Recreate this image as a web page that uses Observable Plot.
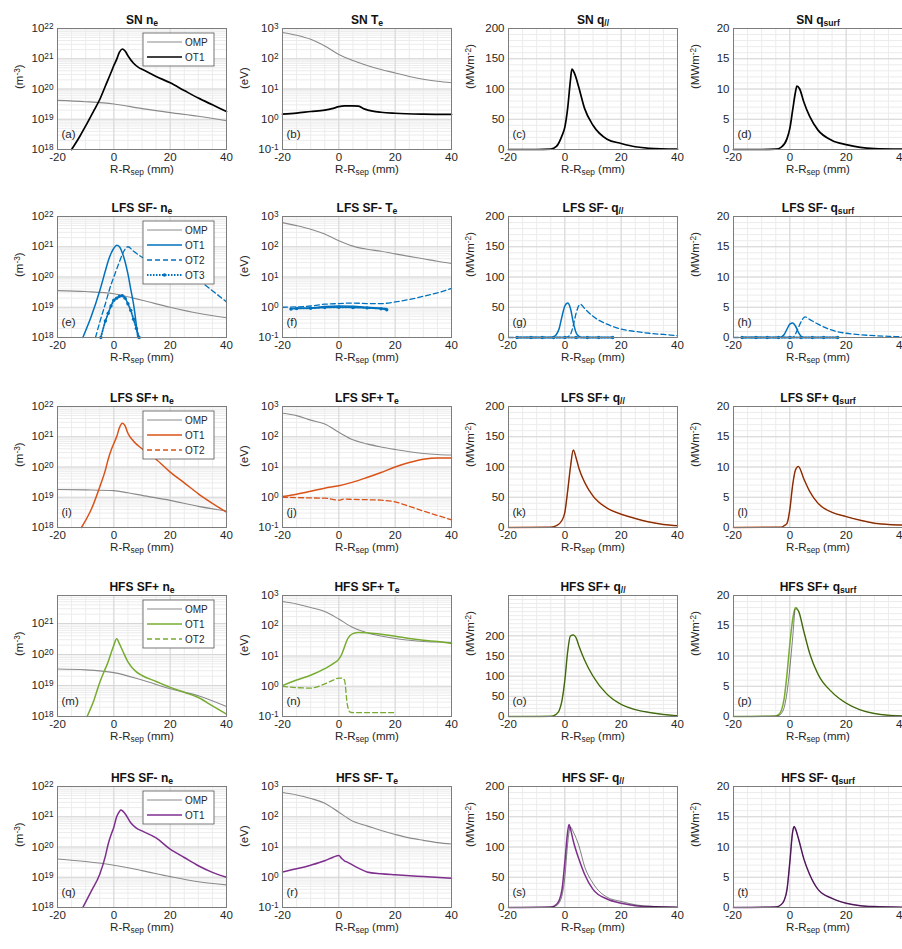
<!DOCTYPE html>
<html><head><meta charset="utf-8">
<script src="https://cdn.jsdelivr.net/npm/d3@7"></script>
<script src="https://cdn.jsdelivr.net/npm/@observablehq/plot@0.6"></script>
<style>
html,body{margin:0;padding:0;background:#fff;overflow:hidden;}
#fig{position:relative;width:902px;height:949px;overflow:hidden;background:#fff;}
</style></head><body><div id="fig"></div>
<script>
// ---------------- DATA ----------------
const xTicks = [-20, 0, 20, 40];
const neTicks = [1e18, 1e19, 1e20, 1e21, 1e22];
const neTicksHFSp = [1e18, 1e19, 1e20, 1e21];
const teTicks = [0.1, 1, 10, 100, 1000];
const qparTicks = [0, 50, 100, 150, 200];
const qsurfTicks = [0, 5, 10, 15, 20];

const rowNames = ["SN", "LFS SF-", "LFS SF+", "HFS SF+", "HFS SF-"];
const rowColors = ["#000000", "#0072BD", "#D95319", "#77AC30", "#7E2F8E"];
const colSymbols = ["n_{e}", "T_{e}", "q_{//}", "q_{surf}"];
const colUnits = ["(m^{-3})", "(eV)", "(MWm^{-2})", "(MWm^{-2})"];
const panelTags = ["a","b","c","d","e","f","g","h","i","j","k","l","m","n","o","p","q","r","s","t"];
const legendRow0 = ["OMP", "OT1"];
const legendRow1 = ["OMP", "OT1", "OT2", "OT3"];
const legendRow2 = ["OMP", "OT1", "OT2"];
const legendRow3 = ["OMP", "OT1", "OT2"];
const legendRow4 = ["OMP", "OT1"];

const omp_ne_x = [-20, -10, 0, 10, 20, 30, 40];
const omp_te_x = [-20, -15, -10, -5, 0, 5, 10, 15, 20, 25, 30, 35, 40];

// (a) SN ne
const a_omp_y = [4.2e19, 3.8e19, 3.2e19, 2.25e19, 1.66e19, 1.26e19, 8.9e18];
const a_ot1_x = [-15, -12, -10, -7, -5, -3, -1, 0, 1, 2, 3, 4, 5, 7, 9, 10, 15, 20, 25, 30, 35, 40];
const a_ot1_y = [1e18, 2.8e18, 6e18, 2e19, 4.5e19, 1.26e20, 3.5e20, 6e20, 9.5e20, 1.66e21, 2.1e21, 1.8e21, 1.26e21, 7.1e20, 5e20, 4.5e20, 2.6e20, 1.6e20, 8.9e19, 5e19, 3e19, 1.8e19];
// (b) SN Te
const b_omp_y = [740, 600, 440, 263, 138, 87, 60, 44, 34, 26, 21, 18, 16];
const b_ot1_x = [-20, -15, -10, -5, -2, 0, 2, 5, 7, 9, 12, 15, 20, 30, 40];
const b_ot1_y = [1.48, 1.6, 1.8, 2.0, 2.3, 2.6, 2.75, 2.75, 2.7, 2.2, 1.85, 1.7, 1.58, 1.48, 1.45];
// (c),(d) SN q
const c_x = [-20, -10, -5, -3, -1, 0, 1, 2, 2.5, 3.5, 5, 7, 10, 15, 20, 25, 30, 40];
const c_ot1_y = [0, 0, 0.5, 5, 23, 37, 68, 115, 133, 125, 102, 68, 40, 17, 10, 4.5, 2, 0.5];
const d_ot1_y = [0, 0, 0.05, 0.4, 1.8, 3.5, 6.5, 9.5, 10.5, 10.0, 7.8, 5.5, 3.2, 1.5, 0.8, 0.35, 0.15, 0.05];
// (e) LFS SF- ne
const e_omp_y = [3.55e19, 3.3e19, 2.8e19, 1.7e19, 1e19, 6.3e18, 4.5e18];
const e_ot1_x = [-11, -8, -5, -3, -2, -1, 0, 1, 2, 3, 4, 5, 6, 7, 8, 8.5];
const e_ot1_y = [1e18, 5e18, 3.5e19, 1.6e20, 3.4e20, 6e20, 8.9e20, 1.12e21, 1e21, 6.3e20, 3.2e20, 1.26e20, 4e19, 1.26e19, 2.5e18, 1e18];
const e_ot2_x = [-6.5, -5, -3, -1, 0, 1, 2, 3, 4, 5, 7, 10, 15, 20, 25, 30, 35, 40];
const e_ot2_y = [1e18, 3.2e18, 1.3e19, 5.6e19, 1e20, 1.8e20, 3.2e20, 5.6e20, 8.3e20, 1e21, 7.1e20, 4.5e20, 2.8e20, 2e20, 1.3e20, 7.9e19, 3.5e19, 1.5e19];
const e_ot3_x = [-4.6, -3, -2, -1, 0, 1, 2, 3, 4, 5, 6, 7, 8, 9];
const e_ot3_y = [1e18, 3.5e18, 6.3e18, 1.1e19, 1.7e19, 2e19, 2.3e19, 2.4e19, 2e19, 1.3e19, 7.9e18, 4e18, 2e18, 1e18];
// (f) LFS SF- Te
const f_omp_y = [630, 500, 380, 263, 158, 105, 83, 71, 58, 48, 40, 33, 28];
const f_ot1_x = [-15, -10, -5, 0, 5, 10, 15, 17];
const f_ot1_y = [0.93, 0.95, 1.05, 1.1, 1.07, 1.0, 0.93, 0.9];
const f_ot2_x = [-20, -10, -5, 0, 5, 10, 15, 20, 25, 30, 35, 40];
const f_ot2_y = [1.0, 1.1, 1.26, 1.32, 1.38, 1.32, 1.32, 1.5, 1.8, 2.3, 3.0, 4.2];
const f_ot3_x = [-17, -15, -10, -5, 0, 5, 10, 15, 17];
const f_ot3_y = [0.87, 0.91, 0.93, 0.98, 1.0, 0.98, 0.95, 0.89, 0.83];
// (g),(h) LFS SF- q
const g_ot1_x = [-17, -5, -4, -3, -2, -1, 0, 1, 2, 3, 4, 5, 6, 17];
const g_ot1_y = [0, 0, 1, 5, 15, 35, 52, 57, 48, 25, 8, 2, 0, 0];
const g_ot2_x = [-20, 0, 1, 2, 3, 4, 5, 5.5, 7, 10, 15, 20, 25, 30, 35, 40];
const g_ot2_y = [0, 0, 1, 5, 20, 40, 53, 55, 48, 35, 22, 14, 10, 7, 5, 3];
const gh_ot3_x = [-17, -12, -8, -4, 0, 4, 8, 12, 17];
const gh_ot3_y = [0, 0, 0, 0, 0, 0, 0, 0, 0];
const h_ot1_x = [-17, -4, -3, -2, -1, 0, 1, 2, 3, 4, 5, 17];
const h_ot1_y = [0, 0, 0.1, 0.5, 1.4, 2.2, 2.4, 1.9, 0.9, 0.2, 0, 0];
const h_ot2_x = [-20, 1, 2, 3, 4, 5, 5.5, 7, 10, 15, 20, 25, 30, 35, 40];
const h_ot2_y = [0, 0, 0.6, 1.6, 2.6, 3.3, 3.4, 3.0, 2.2, 1.2, 0.7, 0.45, 0.3, 0.2, 0.1];
// (i) LFS SF+ ne
const i_omp_x = [-20, -10, 0, 5, 10, 20, 30, 40];
const i_omp_y = [1.8e19, 1.75e19, 1.65e19, 1.4e19, 1.15e19, 7.9e18, 5e18, 3.5e18];
const i_ot1_x = [-11.5, -8, -5, -3, -2, -1, 0, 1, 2, 3, 4, 5, 7, 10, 15, 20, 25, 30, 35, 40];
const i_ot1_y = [1e18, 4e18, 2.2e19, 7.9e19, 1.8e20, 3.5e20, 6e20, 1e21, 2e21, 2.8e21, 2.3e21, 1.3e21, 7.1e20, 4e20, 1.8e20, 6.8e19, 3e19, 1.3e19, 6.3e18, 3.2e18];
// (j) LFS SF+ Te
const j_omp_y = [600, 500, 355, 263, 141, 79, 58, 46, 38, 32, 28, 26, 25];
const j_ot1_y = [1.05, 1.26, 1.58, 2.0, 2.4, 3.16, 4.5, 6.6, 10, 14, 18, 20, 20];
const j_ot2_x = [-20, -10, -5, 0, 2, 5, 10, 15, 20, 25, 30, 35, 40];
const j_ot2_y = [1.0, 0.95, 0.93, 0.8, 0.87, 0.85, 0.83, 0.8, 0.7, 0.5, 0.35, 0.25, 0.18];
// (k),(l) LFS SF+ q
const k_x = [-20, -5, -3, -1, 0, 1, 2, 3, 4, 5, 7, 10, 15, 20, 25, 30, 35, 40];
const k_ot1_y = [0, 0.5, 3, 12, 25, 60, 100, 128, 115, 98, 75, 52, 32, 22, 15, 9, 5, 3];
const l_x = [-20, -3, -2, -1, 0, 1, 2, 3, 5, 7, 10, 15, 20, 25, 30, 35, 40];
const l_ot1_y = [0, 0.05, 0.3, 0.7, 3, 7, 9.5, 10.1, 8, 6, 4, 2.5, 1.8, 1.2, 0.7, 0.5, 0.4];
// (m) HFS SF+ ne
const m_omp_y = [3.4e19, 3.2e19, 2.6e19, 1.5e19, 7.9e18, 4.7e18, 2.1e18];
const m_ot1_x = [-9.5, -7, -5, -3, -2, -1, 0, 1, 2, 3, 5, 8, 10, 15, 20, 25, 30, 35, 40];
const m_ot1_y = [1e18, 3.5e18, 1.26e19, 3.5e19, 5.8e19, 1.1e20, 2e20, 3.2e20, 2.2e20, 1.4e20, 5.8e19, 2.75e19, 2.1e19, 1.35e19, 8.7e18, 6e18, 4.1e18, 2.2e18, 1.2e18];
// (n) HFS SF+ Te
const n_omp_y = [630, 525, 400, 295, 166, 87, 59, 46, 38, 33, 30, 29, 28];
const n_ot1_x = [-20, -15, -10, -5, -2, 0, 1, 2, 3, 4, 5, 7, 10, 15, 20, 25, 30, 35, 40];
const n_ot1_y = [1.05, 1.6, 2.3, 3.8, 5.6, 7.9, 11.2, 20, 35, 48, 55, 60, 59, 52, 45, 38, 33, 30, 26];
const n_ot2_x = [-20, -15, -10, -5, -2, 0, 1, 2, 3, 4, 5, 10, 15, 20];
const n_ot2_y = [1.0, 0.9, 0.87, 1.2, 1.6, 1.86, 1.86, 1.6, 0.25, 0.14, 0.135, 0.135, 0.135, 0.135];
// (o),(p) HFS SF+ q
const o_x = [-20, -5, -4, -3, -2, -1, 0, 1, 2, 3, 4, 5, 7, 10, 15, 20, 25, 30, 35, 40];
const o_ot1_y = [0, 0.5, 2, 6, 15, 40, 90, 160, 200, 202, 195, 175, 140, 100, 55, 30, 17, 10, 5, 2];
const p_x = [-20, -5, -4, -3, -2, -1, 0, 1, 2, 3, 5, 7, 10, 15, 20, 25, 30, 35, 40];
const p_ot1_y = [0, 0.1, 0.3, 1, 3, 7, 12, 16, 18, 17.5, 14, 10.5, 7, 4, 2.2, 1.1, 0.5, 0.2, 0.1];
const p_dark_y = [0, 0.05, 0.15, 0.5, 1.5, 4, 8, 13, 17.8, 17.5, 14, 10.5, 7, 4, 2.2, 1.1, 0.5, 0.2, 0.1];
// (q) HFS SF- ne
const q_omp_y = [4e19, 3.3e19, 2.5e19, 1.66e19, 1.05e19, 7.1e18, 5.6e18];
const q_ot1_x = [-11, -8, -5, -3, -2, -1, 0, 1, 2, 2.5, 4, 6, 8, 10, 15, 20, 25, 30, 35, 40];
const q_ot1_y = [1e18, 3.5e18, 1.26e19, 5e19, 1.26e20, 2.5e20, 4.5e20, 1e21, 1.5e21, 1.66e21, 1.26e21, 6.3e20, 4.2e20, 3.4e20, 2e20, 8.5e19, 4.5e19, 2.4e19, 1.45e19, 1e19];
// (r) HFS SF- Te
const r_omp_y = [630, 525, 400, 280, 141, 71, 50, 35, 26, 20, 16.6, 14, 12.6];
const r_ot1_x = [-20, -15, -10, -5, -2, 0, 1, 2, 3, 5, 7, 10, 15, 20, 30, 40];
const r_ot1_y = [1.5, 1.9, 2.5, 3.5, 4.6, 5.2, 4.2, 3.5, 3.16, 2.5, 2.0, 1.5, 1.3, 1.2, 1.05, 0.93];
// (s),(t) HFS SF- q
const s_x = [-20, -5, -3, -2, -1, 0, 1, 1.5, 2, 3, 5, 7, 10, 15, 20, 25, 30, 40];
const s_ot1_y = [0, 1, 5, 12, 30, 75, 125, 137, 130, 110, 80, 55, 30, 14, 7, 3, 1.5, 0.5];
const s_dark_y = [0, 0.5, 3, 8, 20, 50, 105, 125, 133, 125, 102, 68, 40, 17, 10, 4.5, 2, 0.5];
const t_ot1_y = [0, 0.1, 0.5, 1.2, 3, 7.5, 12.5, 13.4, 13, 11.5, 8, 5.5, 3, 1.5, 0.7, 0.3, 0.15, 0.05];

// ---------------- TABLES BUILT FROM DATA ----------------
const S = (x, y, kind) => ({x, y, kind});
const panels = [
  [[S(omp_ne_x, a_omp_y, "omp"), S(a_ot1_x, a_ot1_y, "ot1")],
   [S(omp_te_x, b_omp_y, "omp"), S(b_ot1_x, b_ot1_y, "ot1")],
   [S(c_x, c_ot1_y, "ot1")],
   [S(c_x, d_ot1_y, "ot1")]],
  [[S(omp_ne_x, e_omp_y, "omp"), S(e_ot1_x, e_ot1_y, "ot1"), S(e_ot2_x, e_ot2_y, "ot2"), S(e_ot3_x, e_ot3_y, "ot3")],
   [S(omp_te_x, f_omp_y, "omp"), S(f_ot2_x, f_ot2_y, "ot2"), S(f_ot1_x, f_ot1_y, "ot1"), S(f_ot3_x, f_ot3_y, "ot3")],
   [S(g_ot2_x, g_ot2_y, "ot2"), S(g_ot1_x, g_ot1_y, "ot1"), S(gh_ot3_x, gh_ot3_y, "ot3")],
   [S(h_ot2_x, h_ot2_y, "ot2"), S(h_ot1_x, h_ot1_y, "ot1"), S(gh_ot3_x, gh_ot3_y, "ot3")]],
  [[S(i_omp_x, i_omp_y, "omp"), S(i_ot1_x, i_ot1_y, "ot1")],
   [S(omp_te_x, j_omp_y, "omp"), S(omp_te_x, j_ot1_y, "ot1"), S(j_ot2_x, j_ot2_y, "ot2")],
   [S(k_x, k_ot1_y, "ot1"), S(k_x, k_ot1_y, "dark")],
   [S(l_x, l_ot1_y, "ot1"), S(l_x, l_ot1_y, "dark")]],
  [[S(omp_ne_x, m_omp_y, "omp"), S(m_ot1_x, m_ot1_y, "ot1")],
   [S(omp_te_x, n_omp_y, "omp"), S(n_ot1_x, n_ot1_y, "ot1"), S(n_ot2_x, n_ot2_y, "ot2")],
   [S(o_x, o_ot1_y, "ot1"), S(o_x, o_ot1_y, "dark")],
   [S(p_x, p_ot1_y, "ot1"), S(p_x, p_dark_y, "dark")]],
  [[S(omp_ne_x, q_omp_y, "omp"), S(q_ot1_x, q_ot1_y, "ot1")],
   [S(omp_te_x, r_omp_y, "omp"), S(r_ot1_x, r_ot1_y, "ot1")],
   [S(s_x, s_ot1_y, "ot1"), S(s_x, s_dark_y, "dark")],
   [S(s_x, t_ot1_y, "ot1"), S(s_x, t_ot1_y, "dark")]]
];
const legends = [legendRow0, legendRow1, legendRow2, legendRow3, legendRow4];

// ---------------- LAYOUT ----------------
const FONT = '"Liberation Sans", Arial, Helvetica, sans-serif';
const ML = 57, MR = 26, MT = 29, MB = 41, PW = 169, PH = 121;
const colLeft = [57, 282, 508, 733];
const rowTop = [28, 216, 406, 595, 786];
const TXT = "#262626";

function yScaleFor(r, c) {
  if (c === 0) return {type: "log", domain: r === 3 ? [1e18, 8e21] : [1e18, 1e22], ticks: r === 3 ? neTicksHFSp : neTicks};
  if (c === 1) return {type: "log", domain: [0.1, 1000], ticks: teTicks};
  if (c === 2) return {type: "linear", domain: r === 3 ? [0, 300] : [0, 200], ticks: qparTicks};
  return {type: "linear", domain: [0, 20], ticks: qsurfTicks};
}

function styleFor(kind, color, r) {
  if (kind === "omp") return {stroke: "#8a8a8a", strokeWidth: 1.1};
  if (kind === "ot1") return {stroke: color, strokeWidth: r === 0 ? 1.7 : 1.5};
  if (kind === "ot2") return {stroke: color, strokeWidth: 1.3, strokeDasharray: "5,3"};
  if (kind === "ot3") return {stroke: color, strokeWidth: 1.8, strokeDasharray: "1.5,1.5"};
  return {stroke: "#000", strokeWidth: 0.9, strokeOpacity: 0.55};
}

function richify(svg) {
  d3.select(svg).selectAll("text").each(function () {
    const s = this.textContent;
    if (!/[\^_]\{/.test(s)) return;
    const el = d3.select(this);
    el.text(null);
    const re = /([\^_])\{([^}]*)\}/g;
    let last = 0, m;
    const add = (t, mode) => {
      const ts = el.append("tspan").text(t);
      if (mode) ts.attr("font-size", "72%").attr("baseline-shift", mode === "^" ? "38%" : "-22%");
    };
    while ((m = re.exec(s))) {
      if (m.index > last) add(s.slice(last, m.index), null);
      add(m[2], m[1]);
      last = re.lastIndex;
    }
    if (last < s.length) add(s.slice(last), null);
  });
}

function fmtTick(v, isLog) {
  if (isLog) return "10^{" + Math.round(Math.log10(v)) + "}";
  return String(v);
}

const fig = document.getElementById("fig");

for (let r = 0; r < 5; r++) {
  for (let c = 0; c < 4; c++) {
    const ys = yScaleFor(r, c);
    const isLog = ys.type === "log";
    const color = rowColors[r];
    const xMinor = d3.range(-20, 41, 5);
    let yMinor;
    if (isLog) yMinor = d3.scaleLog().domain(ys.domain).ticks().filter(v => v >= ys.domain[0] && v <= ys.domain[1]);
    else yMinor = d3.range(ys.domain[0], ys.domain[1] + 1e-9, c === 2 ? 10 : 1);

    const marks = [
      Plot.ruleX(xMinor, {x: d => d, stroke: "#ececec", strokeWidth: 1}),
      Plot.ruleY(yMinor, {y: d => d, stroke: "#ececec", strokeWidth: 1}),
      Plot.ruleX(xTicks, {x: d => d, stroke: "#d6d6d6", strokeWidth: 1}),
      Plot.ruleY(ys.ticks, {y: d => d, stroke: "#d6d6d6", strokeWidth: 1})
    ];
    for (const s of panels[r][c]) {
      const rows = s.x.map((x, i) => ({x, y: s.y[i]}));
      marks.push(Plot.line(rows, {x: "x", y: "y", curve: "monotone-x", ...styleFor(s.kind, color, r)}));
      if (s.kind === "ot3") marks.push(Plot.dot(rows, {x: "x", y: "y", r: 1.7, fill: color}));
    }
    marks.push(Plot.frame({stroke: "#7d7d7d", strokeWidth: 1}));
    // tick labels
    marks.push(Plot.text(xTicks, {x: d => d, text: d => String(d), frameAnchor: "bottom", dy: 11, fontSize: 11.5, fill: TXT}));
    marks.push(Plot.text(ys.ticks, {y: d => d, text: d => fmtTick(d, isLog), frameAnchor: "left", dx: -4, textAnchor: "end", fontSize: 11.5, fill: TXT}));
    // axis labels and title
    marks.push(Plot.text(["R-R_{sep} (mm)"], {text: d => d, frameAnchor: "bottom", dy: 23, fontSize: 11.5, fill: TXT}));
    marks.push(Plot.text([colUnits[c]], {text: d => d, frameAnchor: "left", dx: -38, rotate: -90, fontSize: 11.5, fill: TXT}));
    marks.push(Plot.text([rowNames[r] + " " + colSymbols[c]], {text: d => d, frameAnchor: "top", dy: -13, fontSize: 12, fontWeight: "bold", fill: "#111"}));
    marks.push(Plot.text(["(" + panelTags[r * 4 + c] + ")"], {text: d => d, frameAnchor: "bottom-left", dx: 4, dy: -12, textAnchor: "start", fontSize: 11.5, fill: TXT}));

    const svg = Plot.plot({
      width: ML + PW + MR, height: MT + PH + MB,
      marginLeft: ML, marginRight: MR, marginTop: MT, marginBottom: MB,
      x: {domain: [-20, 40], axis: null},
      y: {type: ys.type, domain: ys.domain, axis: null},
      style: {background: "transparent", overflow: "visible", fontFamily: FONT, position: "absolute",
              left: (colLeft[c] - ML) + "px", top: (rowTop[r] - MT) + "px", maxWidth: "none"},
      marks
    });
    richify(svg);

    if (c === 0) {
      const entries = legends[r];
      const g = d3.select(svg).append("g").attr("text-anchor", "start");
      const x0 = ML + 86, y0 = MT + 5, w = 71, rowH = 15;
      g.append("rect").attr("x", x0).attr("y", y0).attr("width", w).attr("height", entries.length * rowH + 3)
        .attr("fill", "#fff").attr("stroke", "#555").attr("stroke-width", 0.8);
      entries.forEach((name, i) => {
        const cy = y0 + 9 + i * rowH;
        const kind = name === "OMP" ? "omp" : name.toLowerCase();
        const st = styleFor(kind, color, r);
        g.append("line").attr("x1", x0 + 4).attr("x2", x0 + 39).attr("y1", cy).attr("y2", cy)
          .attr("stroke", st.stroke).attr("stroke-width", st.strokeWidth)
          .attr("stroke-dasharray", st.strokeDasharray || null);
        if (kind === "ot3") g.append("circle").attr("cx", x0 + 21.5).attr("cy", cy).attr("r", 1.8).attr("fill", color);
        g.append("text").attr("x", x0 + 42).attr("y", cy).attr("dy", "0.35em").attr("font-size", 10)
          .attr("text-anchor", "start").attr("fill", TXT).attr("font-family", FONT).text(name);
      });
    }
    fig.appendChild(svg);
  }
}
</script></body></html>
